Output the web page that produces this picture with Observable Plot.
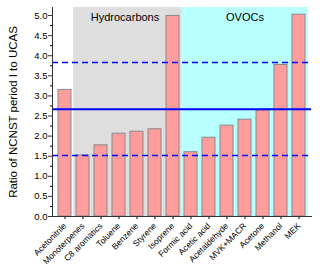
<!DOCTYPE html>
<html><head><meta charset="utf-8">
<script src="https://cdn.jsdelivr.net/npm/d3@7"></script>
<script src="https://cdn.jsdelivr.net/npm/@observablehq/plot@0.6"></script>
<style>body{margin:0;background:#fff;font-family:"Liberation Sans",Arial,sans-serif;}</style>
</head><body><div id="chart"></div>
<script>
const categories = ["Acetonitrile","Monoterpenes","C8 aromatics","Toluene","Benzene","Styrene","Isoprene","Formic acid","Acetic acid","Acetaldehyde","MVK+MACR","Acetone","Methanol","MEK"];
const ratios = [3.15,1.52,1.77,2.06,2.11,2.17,4.99,1.60,1.96,2.26,2.41,2.64,3.77,5.02];
const hydrocarbons = ["Monoterpenes","C8 aromatics","Toluene","Benzene","Styrene","Isoprene"];
const ovocs = ["Formic acid","Acetic acid","Acetaldehyde","MVK+MACR","Acetone","Methanol","MEK"];
const meanLine = [2.67];
const rangeLines = [1.52, 3.83];
const yTicks = [0,0.5,1,1.5,2,2.5,3,3.5,4,4.5,5];
const yMinorTicks = [0.25,0.75,1.25,1.75,2.25,2.75,3.25,3.75,4.25,4.75];
const yMax = 5.2;
const groupLabels = [{x:"Toluene", text:"Hydrocarbons"}, {x:"MVK+MACR", text:"OVOCs"}];

const data = categories.map((c,i)=>({cat:c, v:ratios[i]}));
const half = -2.78;

const chart = Plot.plot({
  width: 320, height: 272,
  marginLeft: 52, marginRight: 9, marginTop: 7, marginBottom: 56,
  style: {fontFamily: "Liberation Sans, Arial, sans-serif", background: "#fff"},
  x: {domain: categories, paddingInner: 0.3, paddingOuter: 0.15, label: null},
  y: {domain: [0, yMax], label: null},
  marks: [
    Plot.barY(hydrocarbons, {x: d=>d, y: ()=>yMax, fill: "#dedede", insetLeft: half, insetRight: half}),
    Plot.barY(ovocs, {x: d=>d, y: ()=>yMax, fill: "#b8ffff", insetLeft: half, insetRight: half}),
    Plot.barY(data, {x: "cat", y: "v", fill: "#ff9c9c", stroke: "#8a8a8a", strokeWidth: 1}),
    Plot.ruleY(meanLine, {stroke: "#0000ff", strokeWidth: 2}),
    Plot.ruleY(rangeLines, {stroke: "#0000ff", strokeWidth: 1.5, strokeDasharray: "6,4"}),
    Plot.text(groupLabels, {x: "x", y: ()=>4.95, text: "text", fontSize: 11, fill: "#000", dx: 0}),
    Plot.axisY({ticks: yTicks, tickFormat: d=>d.toFixed(1), tickSize: 4, tickPadding: 1, fontSize: 9.5, label: null, stroke:"#333"}),
    Plot.axisY({ticks: yMinorTicks, tickSize: 2, tickFormat: ()=>"", label: null}),
    Plot.axisY({ticks: [], label: "Ratio of NCNST period I to UCAS", labelAnchor: "center", labelArrow: "none", labelOffset: 44, fontSize: 11.5}),
    Plot.axisX({tickRotate: -45, tickSize: 3, tickPadding: 5, fontSize: 8.5, label: null}),
    Plot.frame({anchor: "left", stroke: "#333"}),
    Plot.frame({anchor: "bottom", stroke: "#333"})
  ]
});
// shift Hydrocarbons label slightly right to centre it over the grey band
chart.querySelectorAll("text").forEach(t => { if (t.textContent === "Hydrocarbons") t.setAttribute("dx", "6"); });
document.getElementById("chart").appendChild(chart);
</script></body></html>
